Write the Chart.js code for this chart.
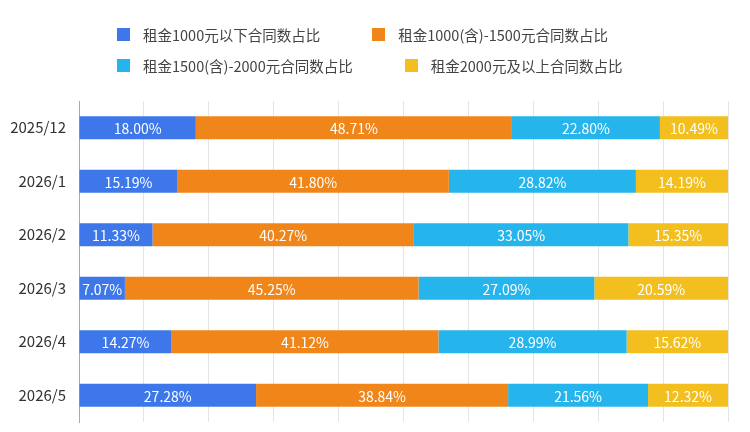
<!DOCTYPE html>
<html lang="zh-CN">
  <head>
    <meta charset="UTF-8" />
    <title>租金区间合同数占比</title>
    <script src="https://cdn.jsdelivr.net/npm/chart.js"></script>
    <style>
      html, body { margin: 0; padding: 0; background: #fff; }
      #wrap { position: relative; width: 750px; height: 432px; }
      #legend {
        position: absolute; left: 117px; top: 19px; width: 580px;
        font-family: "Noto Sans CJK SC", "Noto Sans", sans-serif;
        font-size: 14.5px; color: #444;
      }
      .row { display: flex; height: 31px; align-items: center; }
      .item { display: flex; align-items: center; margin-right: 52px; }
      .box { width: 13px; height: 13px; margin-right: 13px; }
    </style>
  </head>
  <body>
    <div id="wrap">
      <canvas id="chart" width="750" height="432"></canvas>
      <div id="legend"></div>
    </div>

    <script>
      // categorias e series
      const months = ["2025/12", "2026/1", "2026/2", "2026/3", "2026/4", "2026/5"];
      const seriesNames = [
        "租金1000元以下合同数占比",
        "租金1000(含)-1500元合同数占比",
        "租金1500(含)-2000元合同数占比",
        "租金2000元及以上合同数占比",
      ];
      const below1000 = [18.0, 15.19, 11.33, 7.07, 14.27, 27.28];
      const from1000to1500 = [48.71, 41.8, 40.27, 45.25, 41.12, 38.84];
      const from1500to2000 = [22.8, 28.82, 33.05, 27.09, 28.99, 21.56];
      const above2000 = [10.49, 14.19, 15.35, 20.59, 15.62, 12.32];
      const colors = ["#3d77ea", "#f0861a", "#25b5ec", "#f2bf1f"];

      const allSeries = [below1000, from1000to1500, from1500to2000, above2000];

      // legenda em HTML (duas linhas)
      const legend = document.getElementById("legend");
      [[0, 1], [2, 3]].forEach((pair) => {
        const row = document.createElement("div");
        row.className = "row";
        pair.forEach((i) => {
          const it = document.createElement("div");
          it.className = "item";
          it.innerHTML =
            '<span class="box" style="background:' + colors[i] + '"></span>' + seriesNames[i];
          row.appendChild(it);
        });
        legend.appendChild(row);
      });

      // rótulos dentro das barras
      const barLabels = {
        id: "barLabels",
        afterDatasetsDraw(chart) {
          const ctx = chart.ctx;
          ctx.save();
          ctx.fillStyle = "#fff";
          ctx.font = '14px "Noto Sans CJK SC", "Noto Sans", sans-serif';
          ctx.textAlign = "center";
          ctx.textBaseline = "middle";
          chart.data.datasets.forEach((ds, di) => {
            chart.getDatasetMeta(di).data.forEach((bar, i) => {
              const p = bar.getProps(["x", "y", "base"], true);
              ctx.fillText(ds.data[i].toFixed(2) + "%", (p.x + p.base) / 2, p.y + 1);
            });
          });
          ctx.restore();
        },
      };

      new Chart(document.getElementById("chart"), {
        type: "bar",
        data: {
          labels: months,
          datasets: allSeries.map((d, i) => ({
            label: seriesNames[i],
            data: d,
            backgroundColor: colors[i],
            categoryPercentage: 0.5,
            barPercentage: 0.86,
          })),
        },
        options: {
          indexAxis: "y",
          responsive: false,
          animation: false,
          layout: { padding: { top: 101, right: 22, bottom: 10, left: 0 } },
          plugins: { legend: { display: false }, tooltip: { enabled: false } },
          scales: {
            x: {
              stacked: true,
              min: 0,
              max: 100,
              ticks: { display: false, stepSize: 10 },
              grid: { color: "#e4e4e4", drawTicks: false },
              border: { display: false },
              afterFit(scale) {
                scale.height = 0;
              },
            },
            y: {
              stacked: true,
              grid: { display: false },
              border: { color: "#aaa" },
              ticks: {
                color: "#333",
                padding: 5,
                font: { family: '"Noto Sans CJK SC", "Noto Sans", sans-serif', size: 15 },
              },
              afterFit(scale) {
                scale.width = 79;
                scale.paddingTop = 0;
                scale.paddingBottom = 0;
              },
            },
          },
        },
        plugins: [barLabels],
      });
    </script>
  </body>
</html>
